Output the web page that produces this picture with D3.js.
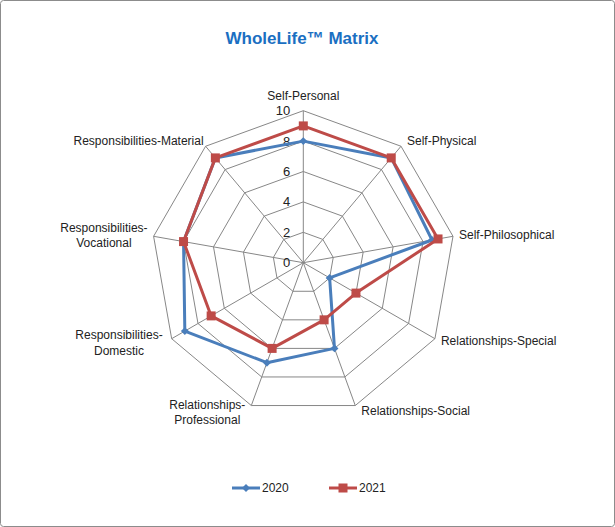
<!DOCTYPE html>
<html><head><meta charset="utf-8">
<script src="https://cdn.jsdelivr.net/npm/d3@7"></script>
<style>
html,body{margin:0;padding:0;background:#fff;}
text{font-family:"Liberation Sans",Arial,sans-serif;}
</style></head>
<body>
<svg id="chart" width="615" height="527"></svg>
<script>
const categories = ["Self-Personal","Self-Physical","Self-Philosophical","Relationships-Special","Relationships-Social","Relationships-Professional","Responsibilities-Domestic","Responsibilities-Vocational","Responsibilities-Material"];
const categoryLines = [["Self-Personal"],["Self-Physical"],["Self-Philosophical"],["Relationships-Special"],["Relationships-Social"],["Relationships-","Professional"],["Responsibilities-","Domestic"],["Responsibilities-","Vocational"],["Responsibilities-Material"]];
const values2020 = [8, 9, 8.6, 2, 6, 7, 9, 8, 9];
const values2021 = [9, 9, 9, 4, 4, 6, 7, 8, 9];
const seriesNames = ["2020","2021"];
const tickValues = [0,2,4,6,8,10];

const svg = d3.select("#chart");
const W = 615, H = 527;
svg.append("rect").attr("x",0.5).attr("y",0.5).attr("width",W-1).attr("height",H-1)
  .attr("rx",3).attr("fill","#fff").attr("stroke","#8c8c8c");

svg.append("text").attr("x",302).attr("y",44).attr("text-anchor","middle")
  .attr("font-size","17px").attr("font-weight","bold").attr("fill","#1a6fc2")
  .text("WholeLife\u2122 Matrix");

const cx = 303.3, cy = 262.7, R = 152;
const r = d3.scaleLinear().domain([0,10]).range([0,R]);
const n = categories.length;
const ang = i => i * 2*Math.PI/n;
const pt = (i,v) => [cx + r(v)*Math.sin(ang(i)), cy - r(v)*Math.cos(ang(i))];

const g = svg.append("g");
tickValues.filter(t=>t>0).forEach(t=>{
  const pts = categories.map((c,i)=>pt(i,t));
  g.append("polygon").attr("points", pts.map(p=>p.join(",")).join(" "))
   .attr("fill","none").attr("stroke","#878787").attr("stroke-width",1);
});
categories.forEach((c,i)=>{
  const p = pt(i,10);
  g.append("line").attr("x1",cx).attr("y1",cy).attr("x2",p[0]).attr("y2",p[1])
   .attr("stroke","#878787").attr("stroke-width",1);
});
tickValues.forEach(t=>{
  g.append("text").attr("x",cx-13).attr("y",cy - r(t)).attr("dy","0.35em")
   .attr("text-anchor","end").attr("font-size","13px").attr("fill","#222").text(t);
});

// category labels
categoryLines.forEach((lines,i)=>{
  const a = ang(i);
  const p = pt(i,10);
  const s = Math.sin(a), c = Math.cos(a);
  const lh = 15.5;
  const t = g.append("text").attr("font-size","12px").attr("fill","#222");
  lines.forEach((ln,k)=>{
    t.append("tspan").attr("x",0).attr("dy", k===0 ? 0 : lh).text(ln);
  });
  const w = d3.max(t.selectAll("tspan").nodes(), nd=>nd.getComputedTextLength());
  let x, y;
  const y0 = -(lines.length-1)*lh/2;
  if (Math.abs(s) < 0.01) {
    t.attr("text-anchor","middle");
    x = p[0]; y = p[1] - 14;
  } else if (s > 0) {
    t.attr("text-anchor","start");
    x = p[0] + 6; y = p[1] - 6*c + 0.5;
  } else if (lines.length > 1) {
    t.attr("text-anchor","middle");
    if (c < -0.8) { x = p[0] - 6 - w/2; y = p[1] + 8; }
    else if (c < -0.3) { x = p[0] - 9 - w/2; y = p[1] + 5; }
    else { x = p[0] - 6 - w/2; y = p[1]; }
  } else {
    t.attr("text-anchor","end");
    x = p[0] - 2; y = p[1] - 4;
  }
  t.attr("transform",`translate(${x},${y + y0})`);
  t.selectAll("tspan").attr("dominant-baseline","middle");
});

const colors = ["#4a7ebb","#be4b48"];
const line = d3.line().curve(d3.curveLinearClosed);
[values2020, values2021].forEach((vals,si)=>{
  const pts = vals.map((v,i)=>pt(i,v));
  g.append("path").attr("d", line(pts)).attr("fill","none")
    .attr("stroke",colors[si]).attr("stroke-width",3).attr("stroke-linejoin","round");
  pts.forEach(p=>{
    if (si===0) {
      g.append("path").attr("d", d3.symbol(d3.symbolDiamond2 || d3.symbolDiamond, 40)())
       .attr("transform",`translate(${p[0]},${p[1]})`).attr("fill",colors[0]);
    } else {
      g.append("rect").attr("x",p[0]-4.5).attr("y",p[1]-4.5).attr("width",9).attr("height",9)
       .attr("fill",colors[1]);
    }
  });
});

const legX = [232, 329];
seriesNames.forEach((nm,si)=>{
  const x = legX[si], y = 488;
  svg.append("line").attr("x1",x).attr("x2",x+28).attr("y1",y).attr("y2",y)
    .attr("stroke",colors[si]).attr("stroke-width",3);
  if (si===0) {
    svg.append("path").attr("d", d3.symbol(d3.symbolDiamond2 || d3.symbolDiamond, 40)())
      .attr("transform",`translate(${x+14},${y})`).attr("fill",colors[0]);
  } else {
    svg.append("rect").attr("x",x+14-4.5).attr("y",y-4.5).attr("width",9).attr("height",9).attr("fill",colors[1]);
  }
  svg.append("text").attr("x",x+30).attr("y",y).attr("dy","0.35em")
    .attr("font-size","12px").attr("fill","#222").text(nm);
});
</script>
</body></html>
